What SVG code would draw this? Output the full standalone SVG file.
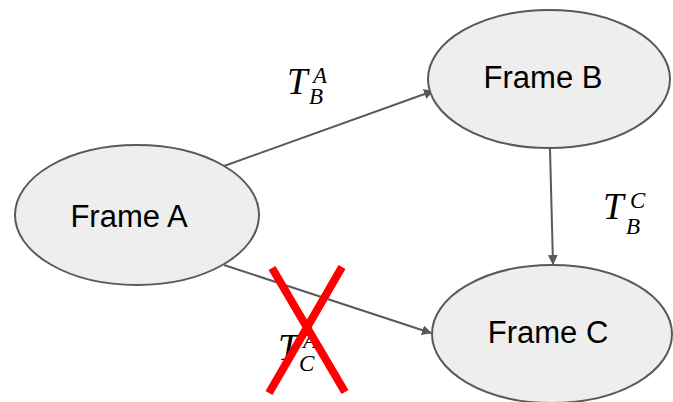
<svg xmlns="http://www.w3.org/2000/svg" width="673" height="402" viewBox="0 0 673 402">
  <defs>
    <style>
      .node ellipse { fill: #eeeeee; stroke: #595959; stroke-width: 2; }
      .node text { font-family: "Liberation Sans", Arial, sans-serif; font-size: 31px; fill: #000; text-anchor: middle; }
      .edge { stroke: #595959; stroke-width: 2; fill: none; marker-end: url(#arrow); }
      .math { font-family: "Liberation Serif", "Times New Roman", serif; font-style: italic; fill: #000; font-size: 37px; }
      .sub { font-size: 23px; }
      .cross { stroke: #ff0000; stroke-width: 8; stroke-linecap: butt; }
    </style>
    <marker id="arrow" viewBox="0 0 10 10" refX="9" refY="5" markerWidth="5" markerHeight="5" orient="auto" markerUnits="strokeWidth">
      <path d="M0,0 L10,5 L0,10 z" fill="#595959"/>
    </marker>
  </defs>
  <rect width="673" height="402" fill="#ffffff"/>

  <g id="connectors">
    <line class="edge" x1="224" y1="166" x2="433" y2="91"/>
    <line class="edge" x1="550" y1="149" x2="553" y2="264"/>
    <line class="edge" x1="224" y1="265" x2="431" y2="333"/>
  </g>

  <g id="frame-a" class="node">
    <ellipse cx="137" cy="215" rx="122" ry="70"/>
    <text x="129" y="227">Frame A</text>
  </g>
  <g id="frame-b" class="node">
    <ellipse cx="549" cy="79" rx="121" ry="69"/>
    <text x="543" y="88">Frame B</text>
  </g>
  <g id="frame-c" class="node">
    <ellipse cx="552" cy="334" rx="120" ry="69"/>
    <text x="548" y="343">Frame C</text>
  </g>

  <!-- transform labels: T with superscript (source) and subscript (target) -->
  <g id="labels">
    <text class="math"><tspan x="287" y="94">T</tspan><tspan class="sub" x="313" y="83">A</tspan><tspan class="sub" x="309" y="104">B</tspan></text>
    <text class="math"><tspan x="603" y="219">T</tspan><tspan class="sub" x="630" y="208">C</tspan><tspan class="sub" x="626" y="234">B</tspan></text>
    <text class="math"><tspan x="278" y="360">T</tspan><tspan class="sub" x="303" y="348">A</tspan><tspan class="sub" x="299" y="371">C</tspan></text>
  </g>

  <g id="rejected-mark">
    <line class="cross" x1="272" y1="268" x2="345" y2="392"/>
    <line class="cross" x1="342" y1="267" x2="269" y2="393"/>
  </g>
</svg>
